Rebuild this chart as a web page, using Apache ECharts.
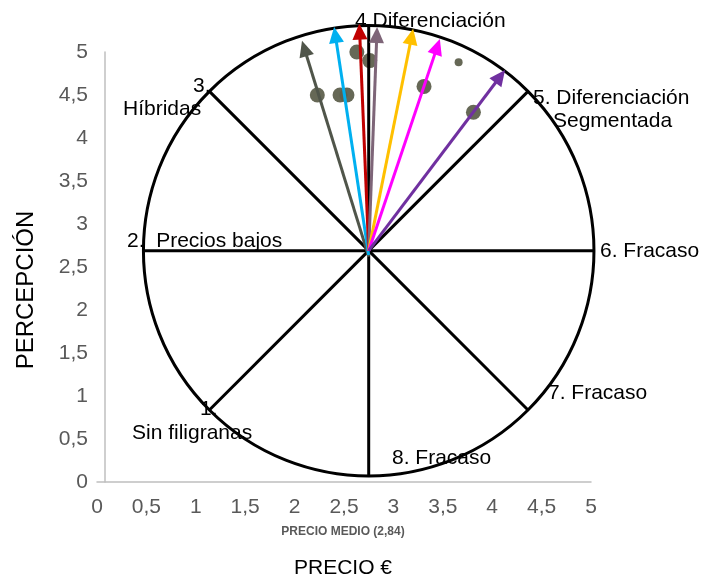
<!DOCTYPE html>
<html><head><meta charset="utf-8">
<script src="https://cdn.jsdelivr.net/npm/echarts@6/dist/echarts.min.js"></script>
<style>html,body{margin:0;padding:0;background:#fff}#c{width:701px;height:583px}</style>
</head><body><div id="c"></div>
<script>
// ---- data ----
const xTickLabels = ['0','0,5','1','1,5','2','2,5','3','3,5','4','4,5','5'];
const yTickLabels = ['0','0,5','1','1,5','2','2,5','3','3,5','4','4,5','5'];
const centerPoint = [2.75, 2.69];          // precio medio / percepción media
const circleRadiusX = 2.28;                // radius expressed in x units
const arrowStartX = [2.75, 2.75, 2.75, 2.75, 2.75, 2.75, 2.75];
const arrowStartY = [2.62, 2.64, 2.69, 2.69, 2.69, 2.69, 2.69];
const arrowEndX = [2.075, 2.40, 2.655, 2.835, 3.20, 3.47, 4.13];
const arrowEndY = [5.13, 5.29, 5.33, 5.29, 5.27, 5.15, 4.79];
const dotX = [2.23, 2.46, 2.53, 2.63, 2.76, 3.31, 3.66, 3.81];
const dotY = [4.50, 4.50, 4.50, 5.00, 4.90, 4.60, 4.88, 4.30];
const regionLabels = ['1.', 'Sin filigranas', '2.  Precios bajos', '3.', 'Híbridas', '4 Diferenciación',
  '5. Diferenciación', 'Segmentada', '6. Fracaso', '7. Fracaso', '8. Fracaso'];

// ---- styles ----
const arrowColors = ['#50554a', '#00b0f0', '#c00000', '#7e6578', '#ffc000', '#ff00ff', '#7030a0'];
const FONT = '"Liberation Sans", Arial, sans-serif';
const labelPos = [[200,408],[132,432],[127,240],[193,85],[123,108],[355,20],[533,97],[553,120],[600,250],[548,392],[392,457]];

const chart = echarts.init(document.getElementById('c'), null, {renderer: 'canvas'});

const fmt = (labels) => (v) => labels[Math.round(v * 2)];

const option = {
  animation: false,
  backgroundColor: '#fff',
  grid: {left: 97, top: 52, width: 494, height: 430, containLabel: false},
  xAxis: {
    type: 'value', min: 0, max: 5, interval: 0.5,
    axisLine: {show: true, onZero: false, lineStyle: {color: '#bfbfbf', width: 1.5}},
    axisTick: {show: false}, splitLine: {show: false},
    axisLabel: {formatter: fmt(xTickLabels), color: '#595959', fontFamily: FONT, fontSize: 21, margin: 15}
  },
  yAxis: {
    type: 'value', min: 0, max: 5, interval: 0.5, offset: -8,
    axisLine: {show: true, onZero: false, lineStyle: {color: '#bfbfbf', width: 1.5}},
    axisTick: {show: false}, splitLine: {show: false},
    axisLabel: {formatter: fmt(yTickLabels), color: '#595959', fontFamily: FONT, fontSize: 21, margin: 17}
  },
  graphic: [
    ...regionLabels.map((t, i) => ({
      type: 'text', left: labelPos[i][0], top: labelPos[i][1] - 9, z: 10,
      style: {text: t, fill: '#000', font: '21px ' + FONT}
    })),
    {type: 'text', x: 26, y: 290, rotation: Math.PI / 2, z: 10,
      style: {text: 'PERCEPCIÓN', fill: '#000', font: '24px ' + FONT, align: 'center', verticalAlign: 'middle'}},
    {type: 'text', x: 343, y: 568, z: 10,
      style: {text: 'PRECIO €', fill: '#000', font: '21px ' + FONT, align: 'center', verticalAlign: 'middle'}},
    {type: 'text', x: 343, y: 532, z: 10,
      style: {text: 'PRECIO MEDIO (2,84)', fill: '#595959', font: 'bold 12px ' + FONT, align: 'center', verticalAlign: 'middle'}}
  ],
  series: [
    {
      type: 'scatter', z: 2, clip: false,
      data: dotX.map((x, i) => [x, dotY[i]]),
      symbolSize: (v, p) => (p.dataIndex === 6 ? 8 : 15),
      itemStyle: {color: '#5e604d', opacity: 0.95}
    },
    {
      type: 'custom', z: 3, clip: false,
      data: [centerPoint],
      renderItem: (params, api) => {
        const c = api.coord([api.value(0), api.value(1)]);
        const r = api.size([circleRadiusX, 0])[0];
        const children = [{type: 'circle', shape: {cx: c[0], cy: c[1], r: r},
          style: {fill: 'none', stroke: '#000', lineWidth: 3}}];
        for (let k = 0; k < 8; k++) {
          const a = k * Math.PI / 4;
          children.push({type: 'line', shape: {x1: c[0], y1: c[1], x2: c[0] + r * Math.cos(a), y2: c[1] - r * Math.sin(a)},
            style: {stroke: '#000', lineWidth: 3}});
        }
        return {type: 'group', children};
      }
    },
    {
      type: 'custom', z: 4, clip: false,
      data: arrowEndX.map((x, i) => [arrowStartX[i], arrowStartY[i], x, arrowEndY[i]]),
      renderItem: (params, api) => {
        const p0 = api.coord([api.value(0), api.value(1)]);
        const p1 = api.coord([api.value(2), api.value(3)]);
        const color = arrowColors[params.dataIndex];
        const dx = p1[0] - p0[0], dy = p1[1] - p0[1];
        const len = Math.hypot(dx, dy), ux = dx / len, uy = dy / len;
        const hl = 16, hw = 7.5;
        const bx = p1[0] - ux * hl, by = p1[1] - uy * hl;
        return {type: 'group', children: [
          {type: 'line', shape: {x1: p0[0], y1: p0[1], x2: bx + ux * 2, y2: by + uy * 2},
            style: {stroke: color, lineWidth: 3}},
          {type: 'polygon', shape: {points: [[p1[0], p1[1]], [bx - uy * hw, by + ux * hw], [bx + uy * hw, by - ux * hw]]},
            style: {fill: color}}
        ]};
      }
    }
  ]
};
chart.setOption(option);
</script>
</body></html>
